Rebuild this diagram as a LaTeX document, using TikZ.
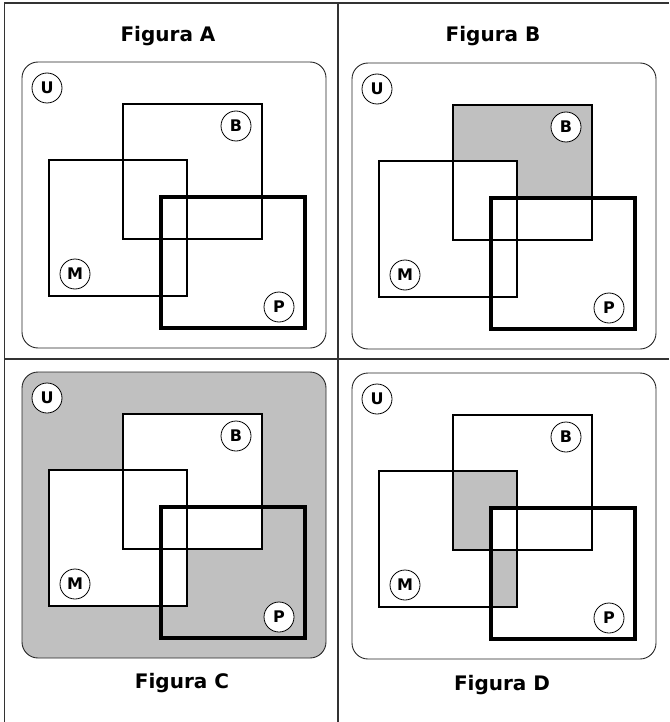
\documentclass[tikz,border=0pt]{standalone}
\usepackage{fontspec}
\setmainfont{DejaVu Sans}
\definecolor{fillgray}{RGB}{192,192,192}
\tikzset{
  frame/.style={line width=1.5pt, black!80},
  univ/.style={line width=0.9pt, black!85, rounded corners=16pt},
  setM/.style={line width=1.8pt},
  setB/.style={line width=2.4pt},
  setP/.style={line width=3.1pt},
  tag/.style={circle, draw, line width=0.8pt, fill=white, minimum size=30pt,
    inner sep=0pt, font=\bfseries\fontsize{16}{16}\selectfont},
  title/.style={font=\bfseries\fontsize{20}{20}\selectfont}
}

\begin{document}
\begin{tikzpicture}[x=1pt, y=-1pt]
\useasboundingbox (0,0) rectangle (669,722);

% shaded regions
% Figura B: B outside M and P
\begin{scope}[shift={(330,1)}]
\fill[fillgray] (123,104) rectangle (262,239);
\fill[white] (49,160) rectangle (187,296);
\fill[white] (161,197) rectangle (305,328);
\end{scope}
% Figura C: U outside M and B
\begin{scope}[shift={(0,310)}]
\fill[fillgray, rounded corners=16pt] (22,62) rectangle (326,348);
\fill[white] (49,160) rectangle (187,296);
\fill[white] (123,104) rectangle (262,239);
\end{scope}
% Figura D: M with B or P, not both
\begin{scope}[shift={(330,311)}]
\clip (49,160) rectangle (187,296);
\fill[fillgray, even odd rule] (123,104) rectangle (262,239)
  (161,197) rectangle (305,328);
\end{scope}

% outlines and labels
\foreach \dx/\dy/\n in {0/0/A, 330/1/B, 0/310/C, 330/311/D} {
  \begin{scope}[shift={(\dx,\dy)}]
  \draw[univ] (22,62) rectangle (326,348);
  \draw[setB] (123,104) rectangle (262,239);
  \draw[setM] (49,160) rectangle (187,296);
  \draw[setP] (161,197) rectangle (305,328);
  \node[tag] (u\n) at (47,88) {U};
  \node[tag] (b\n) at (236,126) {B};
  \node[tag] (m\n) at (75,274) {M};
  \node[tag] (p\n) at (279,307) {P};
  \end{scope}
}

% titles
\node[title] (titleA) at (168,36) {Figura A};
\node[title] (titleB) at (493,36) {Figura B};
\node[title] (titleC) at (182,683) {Figura C};
\node[title] (titleD) at (502,685) {Figura D};

% table lines
\draw[frame] (4,3) -- (669,3);
\draw[frame] (4.5,3) -- (4.5,722);
\draw[frame] (338,3) -- (338,722);
\draw[frame] (4,359) -- (669,359);
\end{tikzpicture}
\end{document}
